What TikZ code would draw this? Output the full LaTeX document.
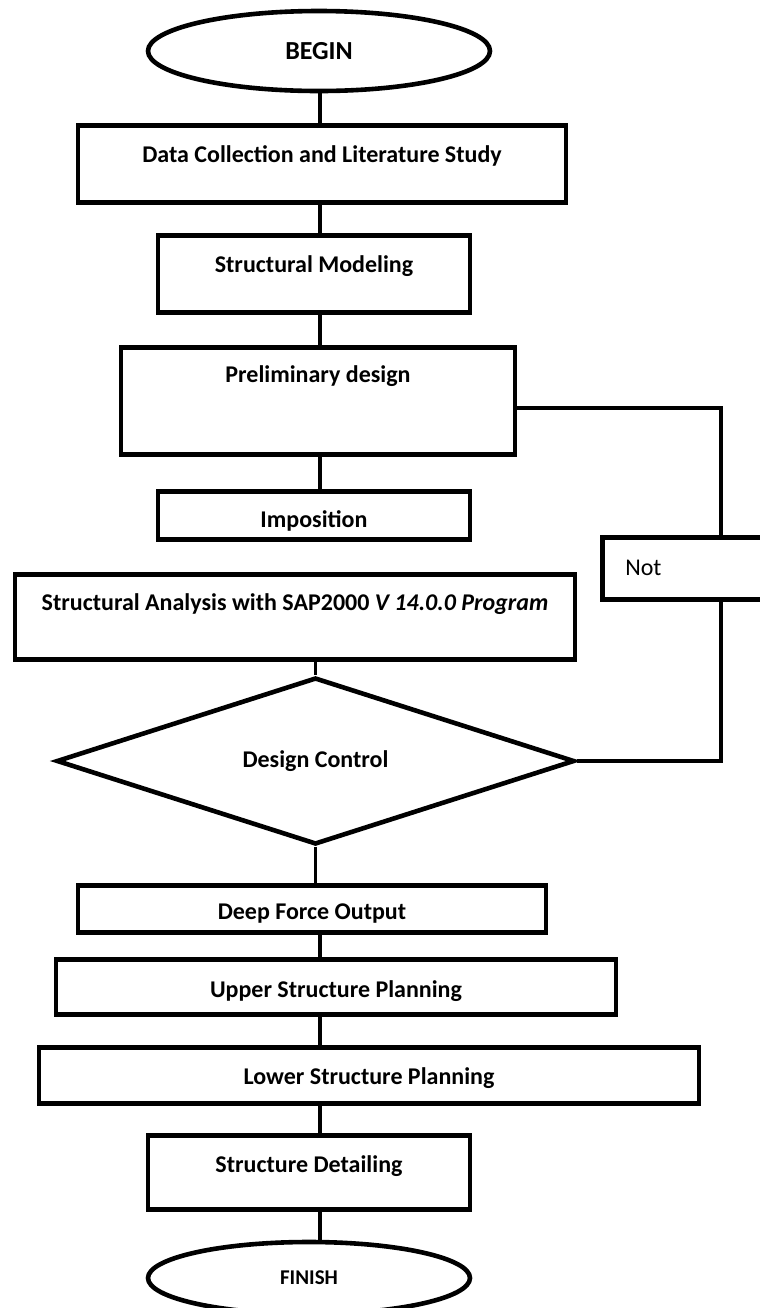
\documentclass[tikz,border=0pt]{standalone}
\usepackage{fontspec}
\setmainfont{Carlito}
\usetikzlibrary{shapes.geometric}
\tikzset{stepbox/.style={draw, rectangle, line width=2.3pt, fill=white,
        anchor=north, inner xsep=0pt, inner ysep=0pt,
        font=\bfseries\fontsize{12}{14}\selectfont},
    terminal/.style={draw, ellipse, line width=2.3pt, fill=white, inner sep=0pt},
    decision/.style={draw, diamond, line width=2.3pt, fill=white, inner sep=0pt,
        font=\bfseries\fontsize{12}{14}\selectfont},
    link/.style={line width=1.6pt},
    }
\begin{document}
\begin{tikzpicture}[x=0.5pt,y=-0.5pt]
	\useasboundingbox (0,0) rectangle (760,1308);
	\clip (0,0) rectangle (760,1308);
	\coordinate (spine) at (320,0);
	\coordinate (back) at (721,408);
	% main column
	\node[terminal, minimum width=171pt, minimum height=40pt,
		font=\bfseries\fontsize{13}{15}\selectfont] (begin) at (319,51) {BEGIN};
	\node[stepbox, minimum width=244pt, text height=18.5pt, text depth=20pt] (data) at (322,123)
		{Data Collection and Literature Study};
	\node[stepbox, minimum width=156pt, text height=18.5pt, text depth=20pt] (model) at (314,233)
		{Structural Modeling};
	\node[stepbox, minimum width=197pt, text height=17.5pt, text depth=36pt] (prelim) at (318,345)
		{Preliminary design};
	\node[stepbox, minimum width=156pt, text height=18pt, text depth=6pt] (impos) at (314,489)
		{Imposition};
	\node[stepbox, minimum width=280pt, text height=18pt, text depth=24.5pt] (analysis) at (295,572)
		{Structural Analysis with SAP2000 \textit{V 14.0.0 Program}};
	\node[decision, minimum width=259pt, minimum height=67pt] (control) at (315.5,761)
		{Design Control};
	\node[stepbox, minimum width=234pt, text height=17pt, text depth=6.5pt] (output) at (312,883)
		{Deep Force Output};
	\node[stepbox, minimum width=280pt, text height=19pt, text depth=8.5pt] (upper) at (336,957)
		{Upper Structure Planning};
	\node[stepbox, minimum width=330pt, text height=18.5pt, text depth=9.5pt] (lower) at (369,1045)
		{Lower Structure Planning};
	\node[stepbox, minimum width=161pt, text height=18.5pt, text depth=18.5pt] (detail) at (309,1133)
		{Structure Detailing};
	\node[terminal, minimum width=161pt, minimum height=36pt,
		font=\bfseries\fontsize{10.5}{12}\selectfont] (finish) at (309,1278) {FINISH};
	% side branch
	\node[stepbox, anchor=north west, minimum width=100pt, text width=77pt, inner xsep=11.5pt,
		align=left, text height=19pt, text depth=12pt, font=\fontsize{12}{14}\selectfont] (notbox) at (600,535)
		{Not};
	% connectors
	\begin{scope}[link]
	\draw (begin.south -| spine) -- (data.north -| spine);
	\draw (data.south -| spine) -- (model.north -| spine);
	\draw (model.south -| spine) -- (prelim.north -| spine);
	\draw (prelim.south -| spine) -- (impos.north -| spine);
	\draw (analysis.south -| control.north) -- (control.north);
	\draw (control.south) -- (output.north -| control.south);
	\draw (output.south -| spine) -- (upper.north -| spine);
	\draw (upper.south -| spine) -- (lower.north -| spine);
	\draw (lower.south -| spine) -- (detail.north -| spine);
	\draw (detail.south -| spine) -- (finish.north -| spine);
	\draw (prelim.east |- back) -- (back) -- (notbox.north -| back);
	\draw (notbox.south -| back) -- (back |- control.east) -- (control.east);
	\end{scope}
\end{tikzpicture}
\end{document}
